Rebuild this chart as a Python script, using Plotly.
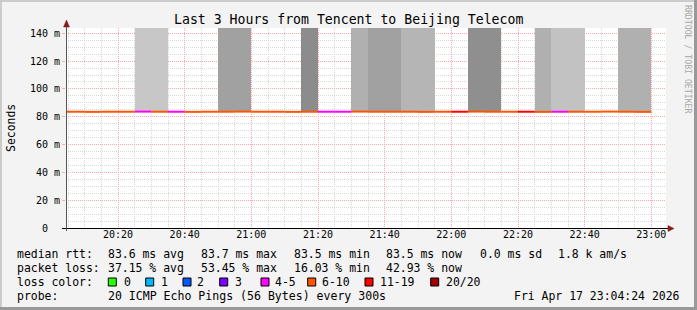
import plotly.graph_objects as go
import pandas as pd

# ---------------- data ----------------
DAY = "2026-04-17"
WINDOW_START = "2026-04-17 20:04:24"
WINDOW_END = "2026-04-17 23:04:24"

interval_start = [
    "20:00", "20:05", "20:10", "20:15", "20:20", "20:25", "20:30", "20:35",
    "20:40", "20:45", "20:50", "20:55", "21:00", "21:05", "21:10", "21:15",
    "21:20", "21:25", "21:30", "21:35", "21:40", "21:45", "21:50", "21:55",
    "22:00", "22:05", "22:10", "22:15", "22:20", "22:25", "22:30", "22:35",
    "22:40", "22:45", "22:50", "22:55",
]
median_ms = [
    83.6, 83.6, 83.5, 83.6, 83.6, 83.7, 83.6, 83.6,
    83.5, 83.6, 83.6, 83.7, 83.6, 83.6, 83.5, 83.6,
    83.6, 83.6, 83.7, 83.6, 83.6, 83.6, 83.5, 83.6,
    83.6, 83.7, 83.6, 83.6, 83.6, 83.5, 83.6, 83.6,
    83.6, 83.7, 83.6, 83.5,
]
loss_pings = [
    7, 8, 7, 7, 8, 5, 8, 4,
    7, 7, 9, 8, 7, 7, 8, 9,
    5, 4, 8, 9, 9, 8, 7, 7,
    12, 10, 9, 7, 11, 8, 5, 7,
    6, 7, 8, 9,
]
# smoke density per interval (0 = no smoke drawn)
smoke_density = [
    0, 0, 0, 0, 0, 0.22, 0.22, 0,
    0, 0, 0.37, 0.37, 0, 0, 0, 0.45,
    0, 0, 0.31, 0.37, 0.37, 0.29, 0.29, 0,
    0, 0.44, 0.44, 0, 0, 0.31, 0.24, 0.24,
    0, 0, 0.31, 0.31,
]
SMOKE_TOP_MS = 250

y_tick_vals = [0, 20, 40, 60, 80, 100, 120, 140]
y_tick_text = ["0  ", "20 m", "40 m", "60 m", "80 m", "100 m", "120 m", "140 m"]

loss_buckets = [
    (0, 0, "0", "#26ff00"),
    (1, 1, "1", "#00b8ff"),
    (2, 2, "2", "#0059ff"),
    (3, 3, "3", "#7e00ff"),
    (4, 5, "4-5", "#ff00ff"),
    (6, 10, "6-10", "#ff5500"),
    (11, 19, "11-19", "#ff0000"),
    (20, 20, "20/20", "#a10000"),
]

title_text = "Last 3 Hours from Tencent to Beijing Telecom"
rtt_items = ["median rtt:", "83.6 ms avg", "83.7 ms max", "83.5 ms min", "83.5 ms now",
             "0.0 ms sd", "1.8 k am/s"]
loss_items = ["packet loss:", "37.15 % avg", "53.45 % max", "16.03 % min", "42.93 % now"]
color_label = "loss color:"
probe_items = ["probe:", "20 ICMP Echo Pings (56 Bytes) every 300s"]
stamp = "Fri Apr 17 23:04:24 2026"
credit = "RRDTOOL / TOBI OETIKER"

# ---------------- layout geometry (pixels) ----------------
W, H = 697, 310
L, R, T, B = 66, 666, 28, 228
MONO = "DejaVu Sans Mono"
LEG_SIZE = 11.46
item_x = [16, 106.6, 199.6, 292.6, 385, 479.3, 556.6]
row_y = [254.3, 268, 282.3, 296]


def px(x):
    return (x - L) / (R - L)


def py(y):
    return (B - y) / (B - T)


def nb(s):
    return s.replace(" ", "\u00a0")


def smoke_color(d):
    g = round(255 * (1 - d))
    return f"rgb({g},{g},{g})"


ts = pd.to_datetime([f"{DAY} {t}" for t in interval_start])
step = pd.Timedelta(minutes=5)

fig = go.Figure()

# smoke
bx, by, bb, bc = [], [], [], []
for t, m, d in zip(ts, median_ms, smoke_density):
    if d > 0:
        bx.append(t + step / 2)
        bb.append(m)
        by.append(SMOKE_TOP_MS - m)
        bc.append(smoke_color(d))
fig.add_trace(go.Bar(x=bx, y=by, base=bb, width=300000,
                     marker=dict(color=bc, line=dict(width=0)),
                     hoverinfo="skip"))

# median line coloured by loss
for lo, hi, label, color in loss_buckets:
    xs, ys = [], []
    for t, m, l in zip(ts, median_ms, loss_pings):
        if lo <= l <= hi:
            xs += [t, t + step, None]
            ys += [m, m, None]
    if xs:
        fig.add_trace(go.Scatter(x=xs, y=ys, mode="lines",
                                 line=dict(color=color, width=2),
                                 hoverinfo="skip"))

shapes = []
# frame
shapes += [
    dict(type="rect", xref="paper", yref="paper", x0=px(0), x1=px(W), y0=py(0), y1=py(2),
         fillcolor="#cbcbcb", line_width=0),
    dict(type="rect", xref="paper", yref="paper", x0=px(0), x1=px(2), y0=py(0), y1=py(H),
         fillcolor="#cbcbcb", line_width=0),
    dict(type="rect", xref="paper", yref="paper", x0=px(0), x1=px(W), y0=py(307), y1=py(H),
         fillcolor="#999999", line_width=0),
    dict(type="rect", xref="paper", yref="paper", x0=px(694), x1=px(W), y0=py(0), y1=py(H),
         fillcolor="#999999", line_width=0),
]
# axes lines
shapes += [
    dict(type="line", xref="paper", yref="paper", x0=px(62), x1=px(669), y0=py(228.5), y1=py(228.5),
         line=dict(color="#000000", width=1)),
    dict(type="line", xref="paper", yref="paper", x0=px(66.5), x1=px(66.5), y0=py(23), y1=py(231),
         line=dict(color="#555555", width=1)),
    dict(type="path", xref="paper", yref="paper",
         path=f"M {px(63.5)} {py(27)} L {px(66.5)} {py(20)} L {px(69.5)} {py(27)} Z",
         fillcolor="#8b1a1a", line=dict(color="#8b1a1a", width=0.5)),
    dict(type="path", xref="paper", yref="paper",
         path=f"M {px(668)} {py(225.5)} L {px(674)} {py(228.5)} L {px(668)} {py(231.5)} Z",
         fillcolor="#8b1a1a", line=dict(color="#8b1a1a", width=0.5)),
]

annotations = []


def txt(s, x, y, size=LEG_SIZE, xanchor="left", color="#000000", angle=0):
    annotations.append(dict(text=nb(s), xref="paper", yref="paper", x=px(x), y=py(y),
                            xanchor=xanchor, yanchor="middle", showarrow=False,
                            textangle=angle, borderpad=0,
                            font=dict(family=MONO, size=size, color=color)))


txt(title_text, 348.5, 19, size=13.2, xanchor="center")
txt("Seconds", 11, 128, xanchor="center", angle=-90)
txt(credit, 688, 59, size=8.2, xanchor="center", color="#a8a8a8", angle=90)
for s, x in zip(rtt_items, item_x):
    txt(s, x, row_y[0])
for s, x in zip(loss_items, item_x):
    txt(s, x, row_y[1])
txt(color_label, item_x[0], row_y[2])
for s, x in zip(probe_items, item_x):
    txt(s, x, row_y[3], size=LEG_SIZE if x == item_x[0] else 11.55)
txt(stamp, 680.5, row_y[3], xanchor="right")

sq_left = [108.3, 145.7, 183, 219.7, 261, 307.7, 365, 430.7]
lab_left = [123.3, 160, 196.3, 234, 274, 321, 379.3, 445]
for (lo, hi, label, color), sx, lx in zip(loss_buckets, sq_left, lab_left):
    shapes.append(dict(type="rect", xref="paper", yref="paper",
                       x0=px(sx), x1=px(sx + 8), y0=py(278), y1=py(286),
                       fillcolor=color, line=dict(color="#000000", width=1)))
    txt(label, lx, row_y[2])

fig.update_layout(
    width=W, height=H, autosize=False,
    margin=dict(l=L, r=W - R, t=T, b=H - B, pad=0),
    paper_bgcolor="#f3f3f3", plot_bgcolor="#ffffff",
    showlegend=False, bargap=0,
    shapes=shapes, annotations=annotations,
    xaxis=dict(
        type="date", range=[WINDOW_START, WINDOW_END],
        tick0=f"{DAY} 20:00", dtick=20 * 60 * 1000, tickformat="%H:%M",
        showgrid=True, gridcolor="#ffa8a8", griddash="1px,1px", gridwidth=1,
        minor=dict(dtick=5 * 60 * 1000, tick0=f"{DAY} 20:00", showgrid=True,
                   gridcolor="#d9d9d9", griddash="1px,1px", gridwidth=1),
        ticks="", ticklabelstandoff=-1,
        tickfont=dict(family=MONO, size=10, color="#000000"),
        showline=False, zeroline=False, fixedrange=True,
    ),
    yaxis=dict(
        range=[0, 143.8], tickvals=y_tick_vals, ticktext=[nb(s) for s in y_tick_text],
        showgrid=True, gridcolor="#ffa8a8", griddash="1px,1px", gridwidth=1,
        minor=dict(dtick=5, tick0=0, showgrid=True, gridcolor="#d9d9d9",
                   griddash="1px,1px", gridwidth=1),
        ticks="outside", ticklen=3, tickcolor="#ffa8a8",
        tickfont=dict(family=MONO, size=10, color="#000000"),
        showline=False, zeroline=False, fixedrange=True,
    ),
)

fig.write_html("out.html", config={"displayModeBar": False})
